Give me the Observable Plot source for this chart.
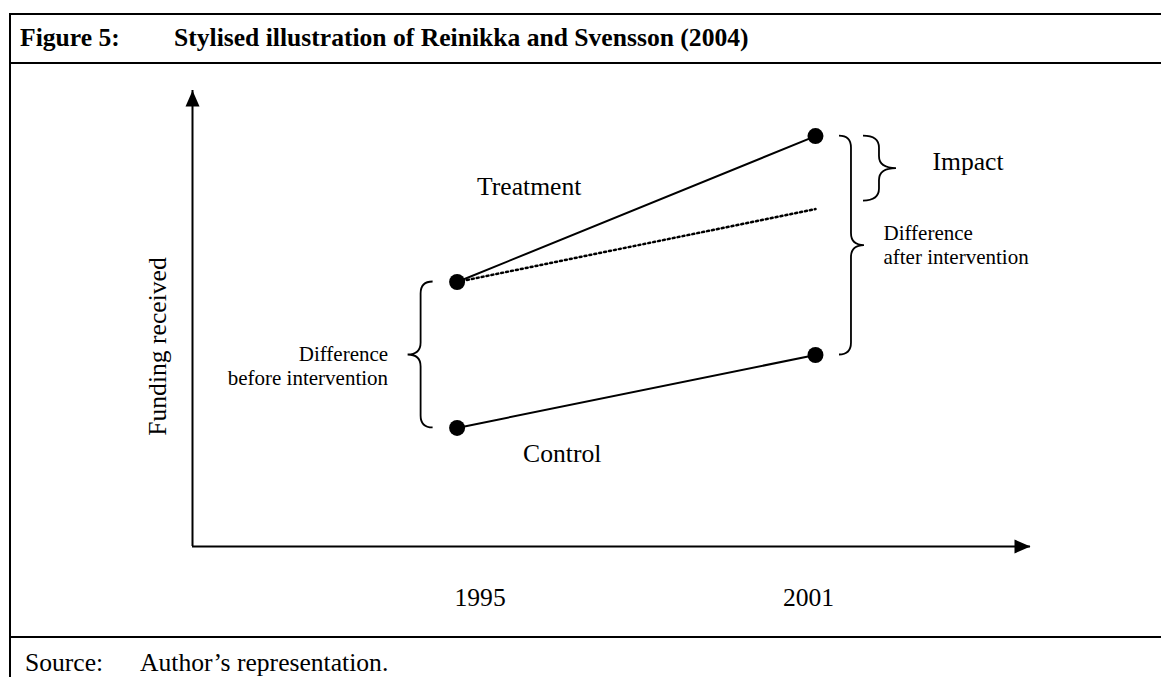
<!DOCTYPE html>
<html><head><meta charset="utf-8">
<script src="https://cdn.jsdelivr.net/npm/d3@7"></script>
<script src="https://cdn.jsdelivr.net/npm/@observablehq/plot@0.6"></script>
<style>
html,body{margin:0;padding:0;background:#fff;overflow:hidden;width:1161px;height:677px;}
body{font-family:"Liberation Serif","Times New Roman",serif;color:#000;position:relative;}
.hl{position:absolute;left:9px;width:1152px;height:2px;background:#000;}
#vl{position:absolute;left:9px;top:13px;width:2px;height:664px;background:#000;}
.t{position:absolute;white-space:nowrap;line-height:1;font-size:25.6px;}
#chart{position:absolute;left:11px;top:64px;}
</style></head><body>
<div class="hl" style="top:13px"></div>
<div class="hl" style="top:62px"></div>
<div class="hl" style="top:636px"></div>
<div id="vl"></div>
<div class="t" id="figno" style="left:20px;top:25px;font-weight:bold"></div>
<div class="t" id="title" style="left:174px;top:25px;font-weight:bold"></div>
<div id="chart"></div>
<div class="t" id="srcl" style="left:25px;top:650px"></div>
<div class="t" id="srct" style="left:140px;top:650px"></div>
<script>
// ---- data ----
const figureNumber = "Figure 5:";
const figureTitle = "Stylised illustration of Reinikka and Svensson (2004)";
const sourceLabel = "Source:";
const sourceText = "Author\u2019s representation.";
const years = [1995, 2001];
const yearLabels = ["1995", "2001"];
const treatment = [5.8, 9.0];
const control = [2.6, 4.2];
const counterfactual = [5.8, 7.4];
const seriesNames = ["Treatment", "Control"];
const yLabel = "Funding received";
const beforeLabel = ["Difference", "before intervention"];
const afterLabel = ["Difference", "after intervention"];
const impactLabel = "Impact";
const xDomain = [1990.57, 2004.6];
const yDomain = [0, 10];

document.getElementById("figno").textContent = figureNumber;
document.getElementById("title").textContent = figureTitle;
document.getElementById("srcl").textContent = sourceLabel;
document.getElementById("srct").textContent = sourceText;

// ---- layout ----
const W = 1150, H = 572;
const mL = 181, mR = 131, mT = 26, mB = 90;

const rows = years.flatMap((yr, i) => [
  {series: seriesNames[0], year: yr, value: treatment[i]},
  {series: seriesNames[1], year: yr, value: control[i]}
]);
const cfRows = years.map((yr, i) => ({year: yr, value: counterfactual[i]}));

const arrowSymbol = {draw(ctx) { ctx.moveTo(0, 0); ctx.lineTo(-7, 16); ctx.lineTo(7, 16); ctx.closePath(); }};

const xs = d3.scaleLinear(xDomain, [mL, W - mR]);
const ys = d3.scaleLinear(yDomain, [H - mB, mT]);

const braces = [
  {x: years[0], v1: treatment[0], v2: control[0], dir: -1, e: 24, s: 36, t: 49, inset: 0},
  {x: years[1], v1: treatment[1], v2: control[1], dir: 1, e: 24, s: 36, t: 49, inset: 0},
  {x: years[1], v1: treatment[1], v2: counterfactual[1], dir: 1, e: 48, s: 64, t: 81, inset: 8}
];

function braceMark(index, scales) {
  const fx = scales && typeof scales.x === "function" ? scales.x : xs;
  const fy = scales && typeof scales.y === "function" ? scales.y : ys;
  const g = d3.create("svg:g");
  for (const b of braces) {
    const cx = fx(b.x);
    const y1 = fy(b.v1), y2 = fy(b.v2) - b.inset;
    const m = (y1 + y2) / 2;
    const r = Math.min(12, (m - y1) / 2.4);
    const xe = cx + b.dir * b.e, xsn = cx + b.dir * b.s, xt = cx + b.dir * b.t;
    const p = d3.path();
    p.moveTo(xe, y1);
    p.quadraticCurveTo(xsn, y1, xsn, y1 + r);
    p.lineTo(xsn, m - r);
    p.quadraticCurveTo(xsn, m, xt, m);
    p.quadraticCurveTo(xsn, m, xsn, m + r);
    p.lineTo(xsn, y2 - r);
    p.quadraticCurveTo(xsn, y2, xe, y2);
    g.append("path").attr("d", p.toString()).attr("fill", "none").attr("stroke", "black").attr("stroke-width", 1.8);
  }
  return g.node();
}

const midAfter = (treatment[1] + control[1]) / 2;
const midBefore = (treatment[0] + control[0]) / 2;

const chart = Plot.plot({
  width: W, height: H,
  marginLeft: mL, marginRight: mR, marginTop: mT, marginBottom: mB,
  x: {domain: xDomain, axis: null},
  y: {domain: yDomain, axis: null},
  style: {fontFamily: "Liberation Serif, Times New Roman, serif", fontSize: "25.6px", color: "black", background: "white"},
  marks: [
    Plot.ruleX([xDomain[0]], {stroke: "black", strokeWidth: 2}),
    Plot.ruleY([yDomain[0]], {stroke: "black", strokeWidth: 2}),
    Plot.dot([{x: xDomain[0], y: yDomain[1]}], {x: "x", y: "y", symbol: arrowSymbol, fill: "black", stroke: "none", r: 8}),
    Plot.dot([{x: xDomain[1], y: yDomain[0]}], {x: "x", y: "y", symbol: arrowSymbol, fill: "black", stroke: "none", r: 8, rotate: 90}),
    Plot.line(cfRows, {x: "year", y: "value", stroke: "black", strokeWidth: 2.5, strokeDasharray: "2,3"}),
    Plot.line(rows, {x: "year", y: "value", z: "series", stroke: "black", strokeWidth: 2}),
    Plot.dot(rows, {x: "year", y: "value", r: 8, fill: "black", stroke: "none"}),
    braceMark,
    // tick labels
    Plot.text([years[0]], {x: d => d, y: () => yDomain[0], text: () => yearLabels[0], dx: 23, dy: 51, fontSize: 25.6}),
    Plot.text([years[1]], {x: d => d, y: () => yDomain[0], text: () => yearLabels[1], dx: -7, dy: 51, fontSize: 25.6}),
    // y label
    Plot.text([yLabel], {frameAnchor: "left", text: d => d, textAnchor: "middle", rotate: -90, dx: -35, dy: 28, fontSize: 25.6}),
    // series labels
    Plot.text([seriesNames[0]], {x: () => years[0], y: () => treatment[0], text: d => d, textAnchor: "start", dx: 20, dy: -95, fontSize: 25.6}),
    Plot.text([seriesNames[1]], {x: () => years[0], y: () => control[0], text: d => d, textAnchor: "start", dx: 66, dy: 26, fontSize: 25.6}),
    // brace labels
    Plot.text([impactLabel], {x: () => years[1], y: () => treatment[1], text: d => d, textAnchor: "start", dx: 117, dy: 26, fontSize: 25.6}),
    Plot.text([afterLabel[0]], {x: () => years[1], y: () => midAfter, text: d => d, textAnchor: "start", dx: 68, dy: -12, fontSize: 21}),
    Plot.text([afterLabel[1]], {x: () => years[1], y: () => midAfter, text: d => d, textAnchor: "start", dx: 68, dy: 12, fontSize: 21}),
    Plot.text([beforeLabel[0]], {x: () => years[0], y: () => midBefore, text: d => d, textAnchor: "end", dx: -69, dy: -1, fontSize: 21}),
    Plot.text([beforeLabel[1]], {x: () => years[0], y: () => midBefore, text: d => d, textAnchor: "end", dx: -69, dy: 23, fontSize: 21})
  ]
});
document.getElementById("chart").appendChild(chart);
</script>
</body></html>
